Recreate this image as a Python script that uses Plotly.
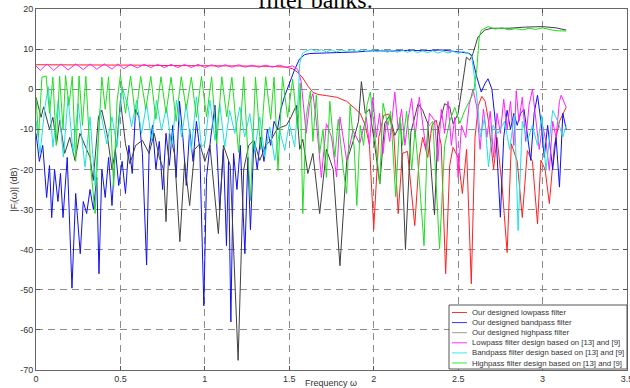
import plotly.graph_objects as go

# ---------------- data: (frequency, |F| in dB) ----------------
LP_OURS = [(0, 6.1), (0.2, 6.1), (0.4, 6.0), (0.6, 6.0), (0.8, 5.9), (1.0, 5.9), (1.2, 5.8), (1.4, 5.7),
           (1.48, 5.5), (1.52, 5.1), (1.55, 4.2), (1.58, 2.8), (1.61, 0.8), (1.64, -0.8), (1.67, -1.3),
           (1.72, -1.6), (1.78, -2.0), (1.84, -3.0), (1.88, -4.4), (1.92, -6.0), (1.95, -9.0), (1.975, -14),
           (2.0, -35), (2.03, -12), (2.06, -6.5), (2.09, -6.2), (2.12, -12), (2.145, -31), (2.17, -16),
           (2.2, -15.5), (2.243, -34), (2.27, -17), (2.29, -12), (2.32, -17), (2.345, -9), (2.37, -7.7),
           (2.4, -14), (2.426, -46), (2.45, -19), (2.47, -14.5), (2.5, -17), (2.525, -26), (2.55, -15),
           (2.578, -48.5), (2.6, -12), (2.62, -4), (2.64, -1.8), (2.66, -3), (2.68, -8), (2.71, -20),
           (2.73, -12), (2.76, -24), (2.79, -40.7), (2.815, -13.6), (2.85, -18), (2.88, -32), (2.91, -15.3),
           (2.94, -18), (2.97, -33.6), (2.99, -17.7), (3.015, -20), (3.04, -28.5), (3.07, -14), (3.1, -8),
           (3.14, -4.5)]

BP_OURS = [(0, -11), (0.02, -18), (0.04, -14), (0.063, -27), (0.08, -19), (0.093, -32), (0.11, -20),
           (0.13, -28), (0.145, -21), (0.16, -32), (0.185, -17), (0.213, -49.6), (0.235, -26), (0.25, -34),
           (0.262, -41), (0.28, -28), (0.3, -31), (0.32, -25), (0.34, -30), (0.36, -22), (0.373, -46),
           (0.39, -20), (0.41, -27), (0.43, -17), (0.45, -29), (0.47, -15), (0.49, -24), (0.51, -18),
           (0.53, -26), (0.55, -14), (0.57, -21), (0.59, -5), (0.61, -7), (0.63, -16), (0.655, -43.8),
           (0.67, -15), (0.69, -9), (0.71, -20), (0.73, -13), (0.75, -25), (0.77, -11), (0.79, -19),
           (0.81, -9), (0.83, -22), (0.85, -3), (0.87, -12), (0.89, -24), (0.91, -10), (0.93, -18),
           (0.95, -8), (0.97, -15), (0.994, -54), (1.01, -22), (1.035, -12), (1.06, -4), (1.088, -30),
           (1.11, -15), (1.128, -39), (1.14, -18), (1.154, -58), (1.17, -16), (1.19, -25), (1.21, -14),
           (1.237, -41), (1.255, -17), (1.27, -35), (1.29, -13), (1.31, -20), (1.33, -12), (1.35, -18),
           (1.37, -10), (1.39, -14), (1.41, -8), (1.43, -10), (1.45, -5), (1.47, -2), (1.5, 1.4),
           (1.53, 4.7), (1.56, 7.5), (1.59, 8.6), (1.62, 8.9), (1.7, 9.0), (1.8, 9.2), (1.9, 9.3),
           (2.0, 9.6), (2.1, 9.5), (2.2, 9.7), (2.3, 9.6), (2.4, 9.8), (2.5, 9.4), (2.56, 9.0),
           (2.58, 8.5), (2.61, 3.1), (2.637, -0.7), (2.66, 1.5), (2.677, 2.6), (2.7, 0), (2.72, -8),
           (2.75, -31.9), (2.77, -12), (2.79, -5.25), (2.81, -10), (2.83, -6), (2.85, -9), (2.87, -6),
           (2.89, -5), (2.91, -12), (2.93, -17.75), (2.95, -6), (2.97, -1.5), (2.99, -8), (3.01, -17),
           (3.03, -9), (3.06, -20), (3.08, -12), (3.1, -24.4), (3.12, -6), (3.14, -10)]

HP_OURS = [(0, -2), (0.03, -7), (0.045, -4.4), (0.08, -10), (0.1, -7), (0.122, -13.6), (0.14, -7.75),
           (0.17, -16), (0.2, -12), (0.231, -17.75), (0.26, -11), (0.29, -14), (0.32, -17), (0.339, -22.75),
           (0.37, -6.9), (0.39, -5.25), (0.42, -11), (0.45, -20), (0.48, -13), (0.5, -2.75), (0.53, -13.6),
           (0.556, -18.6), (0.59, -14), (0.63, -12.75), (0.67, -16), (0.7, -11), (0.73, -17), (0.755, -20),
           (0.77, -33), (0.79, -11), (0.82, -16), (0.852, -38), (0.88, -18), (0.91, -29), (0.94, -15),
           (0.97, -13.6), (1.0, -18), (1.03, -14), (1.08, -36), (1.11, -14), (1.15, -19), (1.197, -67.6),
           (1.23, -20), (1.26, -14), (1.29, -12.75), (1.325, -17.75), (1.36, -14), (1.39, -12.75),
           (1.424, -10.25), (1.45, -9.5), (1.483, -9), (1.51, -7), (1.542, -4), (1.562, -15), (1.58, -12.5),
           (1.61, -21), (1.64, -16), (1.68, -31), (1.72, -15), (1.76, -20), (1.8, -44), (1.84, -18),
           (1.88, -12.75), (1.91, -8), (1.927, 1.9), (1.95, -6), (1.975, -5), (2.0, -12), (2.036, -23.6),
           (2.065, -8.5), (2.095, -6.5), (2.125, -11.5), (2.16, -8.5), (2.188, -40), (2.22, -10.75),
           (2.263, -3.6), (2.29, -5.25), (2.32, -8.5), (2.36, -31.3), (2.38, -10.25), (2.42, -3.6),
           (2.45, -4.4), (2.47, -8.6), (2.5, -6.1), (2.53, 3), (2.549, 8), (2.568, 7.25), (2.588, 8.9),
           (2.617, 13), (2.657, 14.75), (2.7, 15.2), (2.8, 15.2), (2.9, 15.5), (3.0, 15.6), (3.08, 15.3),
           (3.14, 14.75)]

LP_REF = [(0, 5.8), (0.025, 4.7), (0.065, 6.3), (0.105, 4.7), (0.148, 6.3), (0.19, 4.8), (0.235, 6.3),
          (0.28, 4.9), (0.32, 6.3), (0.36, 5.0), (0.405, 6.3), (0.45, 5.0), (0.485, 6.3), (0.52, 5.1),
          (0.56, 6.2), (0.6, 5.3), (0.64, 6.2), (0.68, 5.4), (0.72, 6.2), (0.76, 5.4), (0.8, 6.2), (0.84, 5.4),
          (0.88, 6.2), (0.92, 5.4), (0.96, 6.2), (1.0, 5.4), (1.04, 6.1), (1.08, 5.5), (1.12, 6.1),
          (1.16, 5.5), (1.2, 6.1), (1.24, 5.5), (1.28, 6.0), (1.32, 5.5), (1.36, 6.0), (1.4, 5.5),
          (1.44, 6.0), (1.48, 5.5), (1.52, 5.8), (1.55, 5.0), (1.57, 2.0), (1.585, -4), (1.6, -11),
          (1.62, -3.6), (1.64, -1.1), (1.66, -8), (1.69, -22), (1.72, -8.6), (1.75, -11.9), (1.78, -21.9),
          (1.8, -6.9), (1.84, -17.75), (1.877, -10.25), (1.917, -13.6), (1.956, -6.9), (1.975, -14),
          (1.995, -2), (2.015, -12), (2.035, -6), (2.055, -16), (2.075, -8), (2.095, -13), (2.125, -0.75),
          (2.145, -10), (2.165, -5), (2.185, -14), (2.205, -7), (2.225, -2.3), (2.245, -12), (2.27, -2),
          (2.29, -9), (2.31, -15), (2.33, -6), (2.36, -7.75), (2.38, -18), (2.4, -5), (2.42, -11),
          (2.44, -3), (2.46, -14), (2.48, -7), (2.5, -22), (2.52, -9), (2.545, -12), (2.565, -4),
          (2.588, 0), (2.61, -4.4), (2.63, -15), (2.65, -5), (2.67, -12), (2.69, -5.5), (2.71, -17),
          (2.73, -6), (2.75, -11), (2.77, -2.5), (2.79, -10), (2.81, -3), (2.83, -14), (2.844, -0.4),
          (2.86, -8), (2.88, -2), (2.9, -13), (2.92, -4), (2.94, 0), (2.96, -7), (2.98, -15), (3.0, -9),
          (3.02, -13), (3.04, -20.25), (3.06, -8), (3.08, -12), (3.1, -3), (3.11, -1.5), (3.14, -4.5)]

BP_REF = [(0, -7.75), (0.024, -16), (0.053, -4.4), (0.073, 0.6), (0.1, -14.4), (0.132, -2.75), (0.162, -16.9),
          (0.19, -1.9), (0.22, -16), (0.25, -3.6), (0.29, -19.4), (0.32, -6.9), (0.35, -24), (0.38, -5.25),
          (0.42, -13.6), (0.45, -6.9), (0.48, -14.4), (0.51, 0.6), (0.546, -4.4), (0.566, -9.4),
          (0.596, -2.75), (0.625, -11), (0.655, -3.6), (0.684, -12.75), (0.714, -2.75), (0.743, -10.25),
          (0.773, -4.4), (0.803, -14.4), (0.832, -2.75), (0.862, -11.9), (0.89, -3.6), (0.92, -15.25),
          (0.95, -1.9), (0.98, -14.4), (1.0, -13.6), (1.03, -2.75), (1.06, -12.75), (1.088, -3.6),
          (1.118, -14.4), (1.147, -5.25), (1.177, -11), (1.207, -4.4), (1.236, -11.9), (1.266, -6.1),
          (1.295, -15.25), (1.325, -6.9), (1.355, -16.9), (1.384, -9.4), (1.414, -17.75), (1.443, -10.25),
          (1.473, -15.25), (1.5, -8.6), (1.532, -14.4), (1.552, -2.75), (1.562, 6.4), (1.578, 8.9),
          (1.6, 9.5), (1.63, 10.0), (1.66, 9.4), (1.69, 9.9), (1.72, 9.3), (1.75, 9.8), (1.78, 9.3),
          (1.81, 9.8), (1.84, 9.4), (1.87, 9.9), (1.9, 9.4), (1.93, 9.9), (1.96, 9.3), (1.99, 9.8),
          (2.02, 9.3), (2.05, 9.8), (2.08, 9.2), (2.11, 9.7), (2.14, 9.2), (2.17, 9.7), (2.2, 9.2),
          (2.23, 9.7), (2.26, 9.1), (2.29, 9.6), (2.32, 9.1), (2.35, 9.6), (2.38, 9.0), (2.41, 9.5),
          (2.44, 9.0), (2.47, 9.5), (2.5, 8.9), (2.53, 9.4), (2.56, 8.9), (2.58, 8.2), (2.6, 2),
          (2.615, -3.6), (2.632, -12), (2.657, -7), (2.68, -19.4), (2.706, -9), (2.736, -11), (2.775, -8),
          (2.805, -15), (2.835, -6), (2.855, -35.25), (2.88, -8), (2.91, -13), (2.94, -9), (2.97, -14),
          (2.995, -6.5), (3.02, -20.25), (3.06, -5.25), (3.09, -8), (3.12, -11.9), (3.14, -9)]

HP_REF = [(0, -2), (0.015, -12), (0.035, 3), (0.06, 3.3), (0.08, -6), (0.1, 3), (0.12, -14), (0.14, 3.2),
          (0.16, -10), (0.175, 3.4), (0.195, -4), (0.215, 3.2), (0.235, -18), (0.255, 3.3), (0.275, -9),
          (0.295, 3.2), (0.325, -20), (0.35, -31), (0.37, -12), (0.39, 3), (0.41, -5), (0.43, 3.1),
          (0.46, -24.4), (0.48, -3), (0.5, 3.5), (0.53, -6), (0.56, 3.3), (0.59, -7), (0.62, 3.2),
          (0.65, -5), (0.68, 3.2), (0.71, -7.5), (0.74, 3.1), (0.77, -6), (0.8, 3.0), (0.83, -8),
          (0.86, 3.1), (0.89, -5), (0.92, 3.0), (0.95, -7), (0.98, 3.2), (1.01, -6.9), (1.04, 3.1),
          (1.07, -13.6), (1.1, 3.1), (1.13, -6.9), (1.16, 3.0), (1.2, -15.75), (1.23, 3.1), (1.27, -27.75),
          (1.3, 3.0), (1.33, -15), (1.36, 3.1), (1.39, -7.5), (1.41, 3.0), (1.433, -20.25), (1.46, 3.1),
          (1.49, -7), (1.52, 2.5), (1.55, -10), (1.565, 1.5), (1.58, -31), (1.6, -7), (1.625, -0.5),
          (1.64, -13), (1.66, -1.5), (1.68, -16), (1.7, -10), (1.72, -22), (1.74, -3), (1.77, -17),
          (1.79, -7.5), (1.82, -20), (1.84, -26), (1.86, -4), (1.885, -15), (1.9, -29), (1.92, -9),
          (1.94, -14), (1.96, -4), (1.98, -0.7), (2.0, -9), (2.036, -23.6), (2.055, -3.5), (2.085, -9),
          (2.1, -5.5), (2.13, -26.8), (2.155, -7), (2.17, -14), (2.195, -5.5), (2.225, -20), (2.245, -10),
          (2.27, -22.5), (2.298, -39), (2.32, -9.5), (2.35, -8), (2.37, -22.5), (2.39, -39.8), (2.42, -14),
          (2.45, -8), (2.48, -4.5), (2.51, -8.5), (2.54, -5.25), (2.57, -2.75), (2.59, -1), (2.61, 4.75),
          (2.625, 13), (2.637, 14.7), (2.677, 15.6), (2.72, 15), (2.76, 15.3), (2.8, 14.8), (2.84, 15.1),
          (2.88, 14.8), (2.92, 15.2), (2.96, 14.9), (3.0, 15.3), (3.04, 14.9), (3.08, 14.6), (3.14, 14.5)]

SERIES_NAMES = ["Our designed lowpass filter", "Our designed bandpass filter", "Our designed highpass filter",
                "Lowpass filter design based on [13] and [9]", "Bandpass filter design based on [13] and [9]",
                "Highpass filter design based on [13] and [9]"]
SERIES_DATA = [LP_OURS, BP_OURS, HP_OURS, LP_REF, BP_REF, HP_REF]
SERIES_COLORS = ["#ff2020", "#1010ee", "#404040", "#ff20ff", "#20e0e0", "#20dd20"]
LEGEND_COLORS = ["#ff3333", "#3333ff", "#999999", "#ff33ff", "#33eeee", "#33ee33"]

X_TICKS = [0, 0.5, 1, 1.5, 2, 2.5, 3, 3.5]
X_TICK_TEXT = ["0", "0.5", "1", "1.5", "2", "2.5", "3", "3.5"]
Y_TICKS = [20, 10, 0, -10, -20, -30, -40, -50, -60, -70]
Y_TICK_TEXT = ["20", "10", "0", "-10", "-20", "-30", "-40", "-50", "-60", "-70"]

# ---------------- layout geometry (pixels) ----------------
W, H = 630, 388
L, R, T, B = 36, 627, 9, 370
FONT = "Arial"
TXT = "#333333"


def px_x(px):
    return (px - L) / (R - L)


def px_y(py):
    return (B - py) / (B - T)


fig = go.Figure()
for name, pts, col in zip(SERIES_NAMES, SERIES_DATA, SERIES_COLORS):
    fig.add_trace(go.Scatter(x=[p[0] for p in pts], y=[p[1] for p in pts], mode="lines", name=name,
                             line=dict(color=col, width=1), showlegend=False, hoverinfo="skip"))

axis_common = dict(showline=True, linecolor="#666666", linewidth=1, mirror="ticks", ticks="inside",
                   ticklen=4, tickcolor="#555555", showgrid=True, gridcolor="#8c8c8c", gridwidth=1,
                   griddash="7px,5px", zeroline=False, ticklabeloverflow="allow",
                   tickfont=dict(family=FONT, size=9, color=TXT))

fig.update_layout(
    width=W, height=H, margin=dict(l=L, r=W - R, t=T, b=H - B, autoexpand=False),
    paper_bgcolor="white", plot_bgcolor="white",
    xaxis=dict(range=[0, 3.5], tickmode="array", tickvals=X_TICKS, ticktext=X_TICK_TEXT, **axis_common),
    yaxis=dict(range=[-70, 20], tickmode="array", tickvals=Y_TICKS, ticktext=Y_TICK_TEXT,
               title=dict(text="|F<sub>i</sub>(ω)| (dB)", font=dict(family=FONT, size=9, color=TXT), standoff=1),
               **axis_common),
)

# x-axis title placed precisely under the tick labels
fig.add_annotation(text="Frequency ω", xref="paper", yref="paper", x=px_x(331), y=px_y(383),
                   xanchor="center", yanchor="middle", showarrow=False,
                   font=dict(family=FONT, size=9, color=TXT))

# clipped caption text from the page above the chart
fig.add_annotation(text="filter banks.", xref="paper", yref="paper", x=px_x(315), y=1.0,
                   xanchor="center", yanchor="bottom", yshift=-6, showarrow=False,
                   font=dict(family="Liberation Serif, Times New Roman, serif", size=24, color="black"))

# legend box (drawn manually to match the compact MATLAB legend)
LEG_L, LEG_T, LEG_B = 449, 305, 369
fig.add_shape(type="rect", xref="paper", yref="paper", x0=px_x(LEG_L), x1=px_x(R), y0=px_y(LEG_B),
              y1=px_y(LEG_T), line=dict(color="#555555", width=1), fillcolor="white", layer="above")
for k, (name, col) in enumerate(zip(SERIES_NAMES, LEGEND_COLORS)):
    yy = px_y(312.5 + 10.1 * k)
    fig.add_shape(type="line", xref="paper", yref="paper", x0=px_x(452), x1=px_x(467), y0=yy, y1=yy,
                  line=dict(color=col, width=1), layer="above")
    fig.add_annotation(text=name, xref="paper", yref="paper", x=px_x(469.5), y=yy, xanchor="left",
                       yanchor="middle", showarrow=False, font=dict(family=FONT, size=7.8, color=TXT))

fig.write_html("out.html", config={"displayModeBar": False},
               post_script="document.body.style.margin='0px';")
